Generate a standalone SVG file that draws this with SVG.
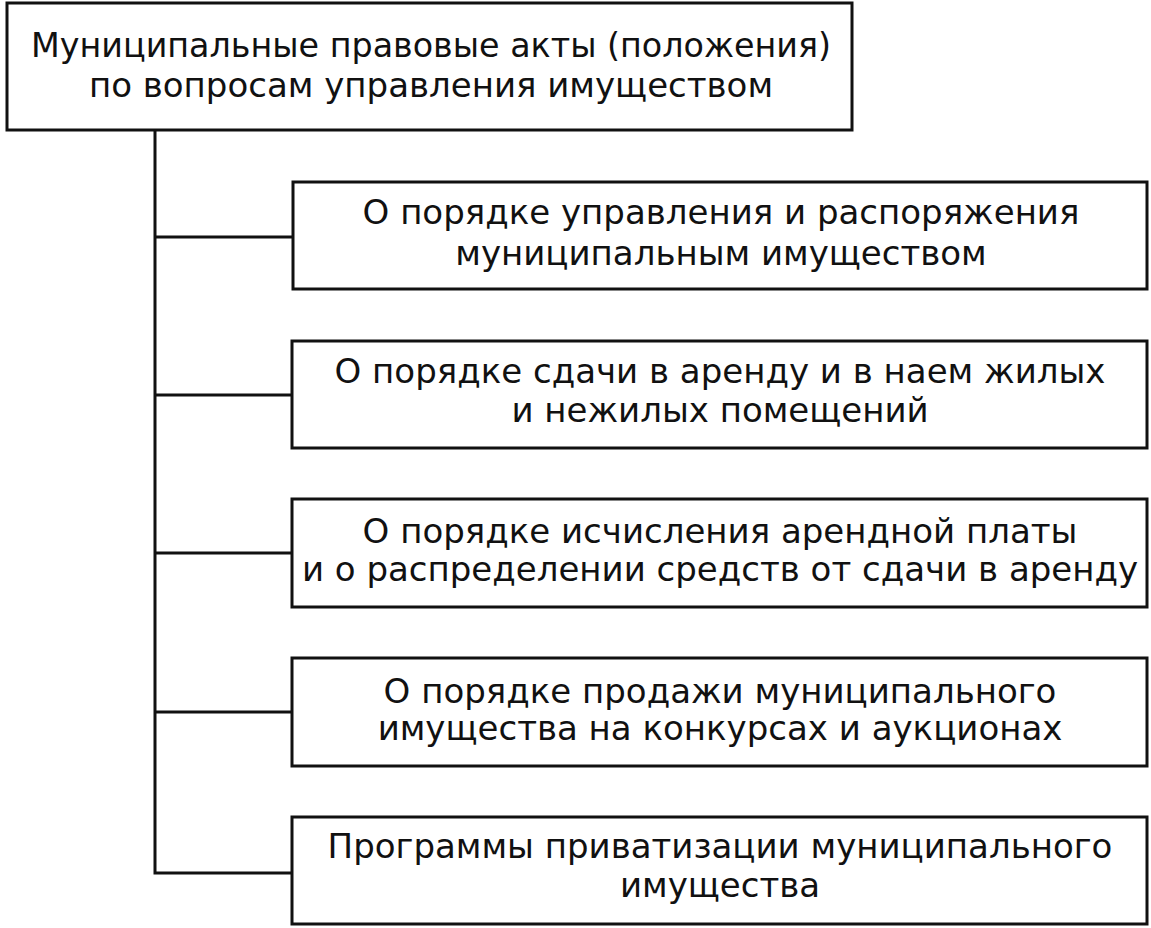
<svg xmlns="http://www.w3.org/2000/svg" width="1151" height="928" viewBox="0 0 1151 928">
<style>
.box{fill:#fff;stroke:#111;stroke-width:3}
.ln{fill:none;stroke:#111;stroke-width:3}
text{font-family:"DejaVu Sans","Liberation Sans",Arial,sans-serif;font-size:34px;fill:#111;text-anchor:middle}
</style>
<rect width="1151" height="928" fill="#fff"/>
<g id="connectors">
<path class="ln" d="M155 130 V873 H293"/>
<path class="ln" d="M155 237 H293"/>
<path class="ln" d="M155 395 H293"/>
<path class="ln" d="M155 553 H293"/>
<path class="ln" d="M155 712 H293"/>
</g>
<g id="root">
<rect class="box" x="7" y="3" width="845" height="127"/>
<text x="431" y="57" textLength="800" lengthAdjust="spacingAndGlyphs">Муниципальные правовые акты (положения)</text>
<text x="431" y="97">по вопросам управления имуществом</text>
</g>
<g id="n1">
<rect class="box" x="293" y="182" width="854" height="107"/>
<text x="721" y="224">О порядке управления и распоряжения</text>
<text x="721" y="265">муниципальным имуществом</text>
</g>
<g id="n2">
<rect class="box" x="292" y="341" width="855" height="107"/>
<text x="720" y="383">О порядке сдачи в аренду и в наем жилых</text>
<text x="720" y="422">и нежилых помещений</text>
</g>
<g id="n3">
<rect class="box" x="292" y="499" width="855" height="108"/>
<text x="720" y="543">О порядке исчисления арендной платы</text>
<text x="720" y="581">и о распределении средств от сдачи в аренду</text>
</g>
<g id="n4">
<rect class="box" x="292" y="658" width="855" height="108"/>
<text x="720" y="703">О порядке продажи муниципального</text>
<text x="720" y="740">имущества на конкурсах и аукционах</text>
</g>
<g id="n5">
<rect class="box" x="292" y="817" width="855" height="107"/>
<text x="720" y="858">Программы приватизации муниципального</text>
<text x="720" y="897">имущества</text>
</g>
</svg>
